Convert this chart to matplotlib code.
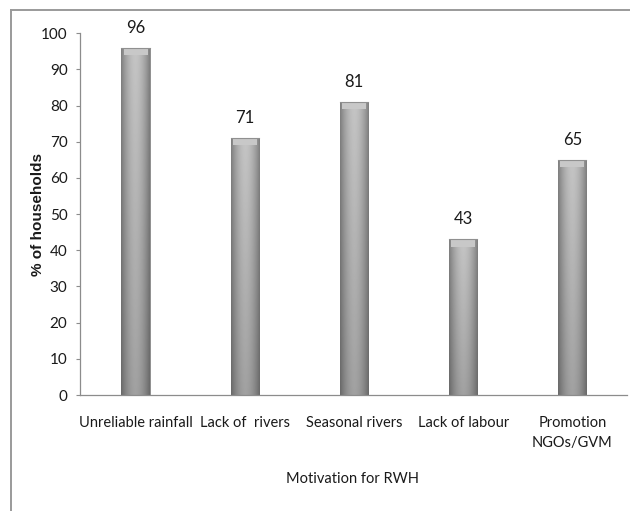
import numpy as np
import matplotlib
matplotlib.use("Agg")
import matplotlib.pyplot as plt
from matplotlib.lines import Line2D

categories = ["Unreliable rainfall", "Lack of  rivers", "Seasonal rivers",
              "Lack of labour", "Promotion\nNGOs/GVM"]
households_pct = [96, 71, 81, 43, 65]
y_ticks = list(range(0, 101, 10))

NARROW = ["Lato", "DejaVu Sans"]
AXIS_GREY = "#8c8c8c"
TEXT = "#1a1a1a"

fig = plt.figure(figsize=(6.3, 5.11), dpi=100)
ax = fig.add_axes([0.127, 0.227, 0.868, 0.708])

x = np.arange(len(categories))
bar_w = 0.26
bars = ax.bar(x, households_pct, width=bar_w, color="#a6a6a6",
              edgecolor="#858585", linewidth=0.6, zorder=2)

# shaded fill: darker at the sides and toward the base
u = np.linspace(-1, 1, 64)
side = 1 - 0.35 * np.abs(u) ** 1.8
vert = np.linspace(0.82, 1.0, 128)[:, None]
shade = side[None, :] * vert
for b in bars:
    x0, y0 = b.get_x(), b.get_y()
    w, h = b.get_width(), b.get_height()
    im = ax.imshow(shade, cmap="gray", vmin=0.0, vmax=1.3, aspect="auto",
                   extent=[x0, x0 + w, y0, y0 + h], origin="lower",
                   interpolation="bilinear", zorder=2.5)
    im.set_clip_path(b)
    # bevelled cap
    cap = 2.0
    ax.fill_between([x0 + 0.02, x0 + w - 0.02], y0 + h - cap, y0 + h,
                    color="#c8c8c8", zorder=2.6, linewidth=0)
    ax.plot([x0, x0 + w], [y0 + h, y0 + h], color="#909090", lw=0.8, zorder=2.7)

for xi, v in zip(x, households_pct):
    ax.annotate(str(v), (xi, v), xytext=(0, 14.5), textcoords="offset points",
                ha="center", va="center", fontsize=12, family=NARROW,
                color=TEXT)

ax.set_xlim(-0.51, 4.5)
ax.set_ylim(0, 100)
ax.set_yticks(y_ticks)
ax.set_yticklabels([str(t) for t in y_ticks], family=NARROW, fontsize=11,
                   color=TEXT)
ax.set_xticks(x)
ax.set_xticklabels(categories, family=NARROW, fontsize=10.5, color=TEXT,
                   linespacing=1.55)
ax.tick_params(axis="x", length=0, pad=15)
ax.tick_params(axis="y", length=3, width=0.8, color=AXIS_GREY, pad=6)

for s in ("top", "right"):
    ax.spines[s].set_visible(False)
for s in ("left", "bottom"):
    ax.spines[s].set_color(AXIS_GREY)
    ax.spines[s].set_linewidth(0.9)

ax.set_xlabel("Motivation for RWH", family=NARROW, fontsize=10.5, color=TEXT)
ax.xaxis.set_label_coords(0.499, -0.212)
ax.set_ylabel("% of households", fontsize=11, fontweight="bold",
              family=["Liberation Sans", "DejaVu Sans"], color=TEXT)
ax.yaxis.set_label_coords(-0.064, 0.5)

# outer chart frame, open on the right and bottom
fig.add_artist(Line2D([10.5 / 630, 1], [1 - 10.5 / 511, 1 - 10.5 / 511],
                      transform=fig.transFigure, color="#9a9a9a", lw=1.4))
fig.add_artist(Line2D([10.5 / 630, 10.5 / 630], [0, 1 - 10.5 / 511],
                      transform=fig.transFigure, color="#9a9a9a", lw=1.4))

fig.savefig("out.png", dpi=100)
